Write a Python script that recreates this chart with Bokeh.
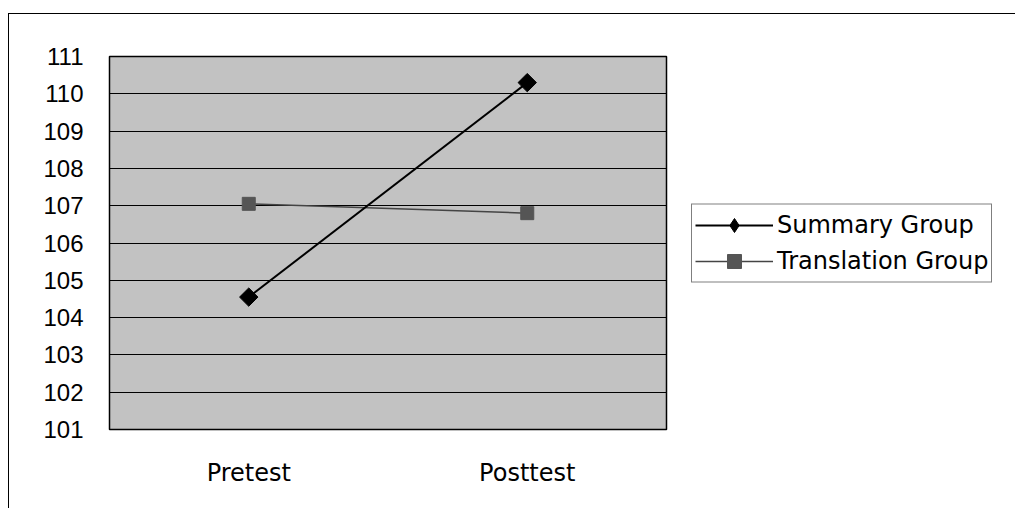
from bokeh.plotting import figure
from bokeh.models import FactorRange, FixedTicker, Legend, LegendItem, ColumnDataSource
from bokeh.embed import file_html
from bokeh.resources import INLINE
import math

# ---- data ----
categories = ["Pretest", "Posttest"]
summary_group = [104.55, 110.3]
translation_group = [107.05, 106.8]
y_ticks = [101, 102, 103, 104, 105, 106, 107, 108, 109, 110, 111]

p = figure(
    x_range=FactorRange(*categories, range_padding=0),
    y_range=(101, 111),
    width=1005, height=494,
    frame_width=557, frame_height=373,
    min_border_left=100, min_border_top=42, min_border_bottom=79, min_border_right=348,
    output_backend="svg", toolbar_location=None,
    background_fill_color="#c2c2c2",
    border_fill_color="white",
)
p.styles = {"border-left": "1px solid black", "border-top": "1px solid black",
            "margin-top": "13px", "margin-left": "8px"}

p.outline_line_color = "black"
p.outline_line_width = 1.5

p.xgrid.grid_line_color = None
p.ygrid.grid_line_color = "black"
p.ygrid.grid_line_width = 1
p.ygrid.ticker = FixedTicker(ticks=y_ticks)

p.yaxis.ticker = FixedTicker(ticks=y_ticks)
for ax in (p.xaxis[0], p.yaxis[0]):
    ax.axis_line_color = None
    ax.major_tick_line_color = None
    ax.minor_tick_line_color = None
    ax.major_tick_out = 0
    ax.major_tick_in = 0
    ax.minor_tick_out = 0

p.yaxis.major_label_text_font = "Liberation Sans"
p.yaxis.major_label_text_font_size = "24px"
p.yaxis.major_label_text_color = "black"
p.yaxis.major_label_standoff = 26

p.xaxis.major_label_text_font = "DejaVu Sans"
p.xaxis.major_label_text_font_size = "24px"
p.xaxis.major_label_text_color = "black"
p.xaxis.major_label_standoff = 29

src = ColumnDataSource(dict(x=categories, s=summary_group, t=translation_group))

t_line = p.line("x", "t", source=src, line_color="#444444", line_width=1.5)
t_mark = p.scatter("x", "t", source=src, marker="square", size=13,
                   fill_color="#555555", line_color="#555555")
s_line = p.line("x", "s", source=src, line_color="black", line_width=2)
s_mark = p.scatter("x", "s", source=src, marker="square", size=13, angle=math.pi / 4,
                   fill_color="black", line_color="black")
# diamond used for the legend swatch (hidden inside the rotated square in the plot)
s_key = p.scatter("x", "s", source=src, marker="diamond", size=13,
                  fill_color="black", line_color="black")

legend = Legend(
    items=[LegendItem(label="Summary Group", renderers=[s_line, s_key]),
           LegendItem(label="Translation Group", renderers=[t_line, t_mark])],
    location="left",
    orientation="vertical",
    margin=25,
    padding=3,
    spacing=1,
    glyph_width=78,
    glyph_height=35,
    label_height=35,
    label_standoff=4,
    label_text_font="DejaVu Sans",
    label_text_font_size="24px",
    label_text_color="black",
    border_line_color="black",
    border_line_width=1,
    background_fill_color="white",
    background_fill_alpha=1,
)
p.add_layout(legend, "right")

open("out.html", "w").write(file_html(p, INLINE))
